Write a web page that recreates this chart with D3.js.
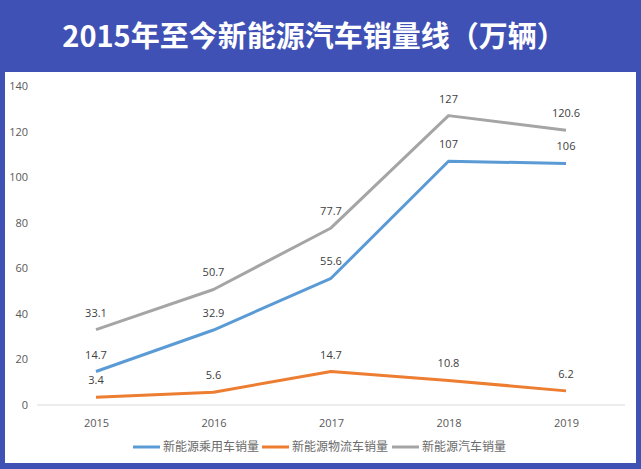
<!DOCTYPE html>
<html><head><meta charset="utf-8">
<script src="https://cdn.jsdelivr.net/npm/d3@7"></script>
<style>html,body{margin:0;padding:0;background:#3f51b5;}svg{display:block}</style>
</head><body>
<svg id="c" width="641" height="469"></svg>
<script>
const years = ["2015","2016","2017","2018","2019"];
const seriesNames = ["新能源乘用车销量","新能源物流车销量","新能源汽车销量"];
const passenger = [14.7, 32.9, 55.6, 107, 106];
const logistics = [3.4, 5.6, 14.7, 10.8, 6.2];
const total = [33.1, 50.7, 77.7, 127, 120.6];
const yTicks = [0,20,40,60,80,100,120,140];
const colors = ["#5b9bd5","#ed7d31","#a5a5a5"];
const title = "2015年至今新能源汽车销量线（万辆）";

const svg = d3.select("#c");
const font = "'Open Sans','Noto Sans CJK SC',sans-serif";
svg.append("rect").attr("width",641).attr("height",469).attr("fill","#3f51b5");
svg.append("rect").attr("x",5).attr("y",72).attr("width",631).attr("height",391).attr("fill","#fff");
svg.append("text").attr("x",314).attr("y",47).attr("text-anchor","middle")
  .attr("fill","#fff").attr("font-weight","bold").attr("font-size",29)
  .attr("font-family","'Noto Sans CJK SC',sans-serif").text(title);

const x = d3.scalePoint().domain(years).range([96,566]);
const y = d3.scaleLinear().domain([0,140]).range([405,86]);

// baseline
svg.append("line").attr("x1",37).attr("x2",625).attr("y1",y(0)).attr("y2",y(0)).attr("stroke","#d9d9d9").attr("stroke-width",1);

const yAxis = svg.append("g").attr("transform","translate(28,0)")
  .call(d3.axisLeft(y).tickValues(yTicks).tickSize(0).tickPadding(0));
yAxis.select(".domain").remove();
yAxis.selectAll("text").attr("font-size",11).attr("fill","#595959").attr("font-family",font);

const xAxis = svg.append("g").attr("transform",`translate(0,${y(0)})`)
  .call(d3.axisBottom(x).tickSize(0).tickPadding(14));
xAxis.select(".domain").remove();
xAxis.selectAll("text").attr("font-size",11).attr("fill","#595959").attr("font-family",font);

const data = [passenger, logistics, total];
const line = d3.line().x((d,i)=>x(years[i])).y(d=>y(d));
data.forEach((s,k)=>{
  svg.append("path").datum(s).attr("d",line).attr("fill","none")
    .attr("stroke",colors[k]).attr("stroke-width",3).attr("stroke-linejoin","round");
  svg.selectAll(null).data(s).enter().append("text")
    .attr("x",(d,i)=>x(years[i])).attr("y",d=>y(d)-13)
    .attr("text-anchor","middle").attr("font-size",11).attr("fill","#404040")
    .attr("font-family",font).text(d=>d);
});

// legend
const legX = [133,262,392];
seriesNames.forEach((n,k)=>{
  svg.append("line").attr("x1",legX[k]).attr("x2",legX[k]+27).attr("y1",447).attr("y2",447)
    .attr("stroke",colors[k]).attr("stroke-width",3);
  svg.append("text").attr("x",legX[k]+30).attr("y",451).attr("font-size",12).attr("fill","#6a6a6a")
    .attr("font-family","'Noto Sans CJK SC',sans-serif").text(n);
});
</script></body></html>
